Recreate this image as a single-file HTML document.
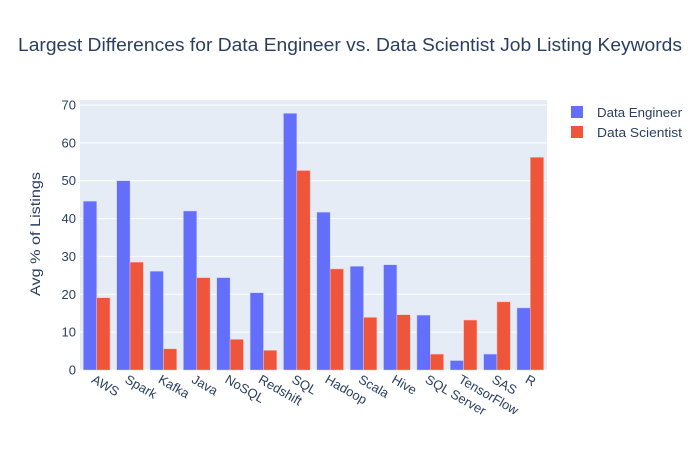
<!DOCTYPE html>
<html><head><meta charset="utf-8"><style>
body{margin:0;background:#fff}
text{font-family:"Liberation Sans",sans-serif;fill:#2a3f5f}
</style></head><body>
<svg id="c" width="700" height="450">
<rect width="700" height="450" fill="#fff"/>
<rect x="80" y="100" width="467" height="270" fill="#e5ecf6"/>
<g id="grid"></g><g id="bars"></g><g id="ticks"></g>
<text x="18" y="51" font-size="18" textLength="664" lengthAdjust="spacingAndGlyphs">Largest Differences for Data Engineer vs. Data Scientist Job Listing Keywords</text>
<text transform="translate(40,234) rotate(-90)" x="-62" font-size="14" textLength="124" lengthAdjust="spacingAndGlyphs">Avg % of Listings</text>
<g><rect x="571" y="106" width="12" height="12" fill="#636efa"/><text x="597" y="117" font-size="12.5" textLength="85" lengthAdjust="spacingAndGlyphs">Data Engineer</text></g>
<g><rect x="571" y="126" width="12" height="12" fill="#ef553b"/><text x="597" y="137" font-size="12.5" textLength="85" lengthAdjust="spacingAndGlyphs">Data Scientist</text></g>
</svg>
<script>
const categories=["AWS","Spark","Kafka","Java","NoSQL","Redshift","SQL","Hadoop","Scala","Hive","SQL Server","TensorFlow","SAS","R"];
const engineer=[44.6,50.0,26.1,42.0,24.4,20.4,67.8,41.7,27.4,27.8,14.5,2.5,4.2,16.4];
const scientist=[19.1,28.5,5.6,24.4,8.1,5.2,52.7,26.7,13.9,14.6,4.2,13.2,18.0,56.2];
const yTicks=[0,10,20,30,40,50,60,70];
const ns="http://www.w3.org/2000/svg";
const L=80,R=547,T=100,B=370;
const ymax=Math.max(...engineer,...scientist)*1.052;
const y=v=>B-(v/ymax)*(B-T);
const bw=(R-L)/categories.length;
const x=i=>L+i*bw;
function mk(tag,attrs,parent){const e=document.createElementNS(ns,tag);for(const k in attrs)e.setAttribute(k,attrs[k]);document.getElementById(parent).appendChild(e);return e;}
yTicks.forEach(t=>{
 const g=mk('line',{x1:L,x2:R,y1:y(t),y2:y(t),stroke:'#fff','stroke-width':1},'grid');
 
 
 const tx=mk('text',{x:L-4,y:y(t)+4.5,'text-anchor':'end','font-size':13},'ticks');
 tx.textContent=t;
 
 
});
categories.forEach((c,i)=>{
 const w=bw*0.4;
 const b1=mk('rect',{x:x(i)+bw*0.1,y:y(engineer[i]),width:w,height:B-y(engineer[i]),fill:'#636efa',stroke:'#c8cdfc','stroke-width':0.5},'bars');
 
 
 const b2=mk('rect',{x:x(i)+bw*0.5,y:y(scientist[i]),width:w,height:B-y(scientist[i]),fill:'#ef553b',stroke:'#f8c4ba','stroke-width':0.5},'bars');
 
 
 const cx=x(i)+bw/2-6;
 const t=mk('text',{transform:`translate(${cx},${B+12}) rotate(30)`,'font-size':13},'ticks');
 t.textContent=c;
 
 
});
</script>
</body></html>
